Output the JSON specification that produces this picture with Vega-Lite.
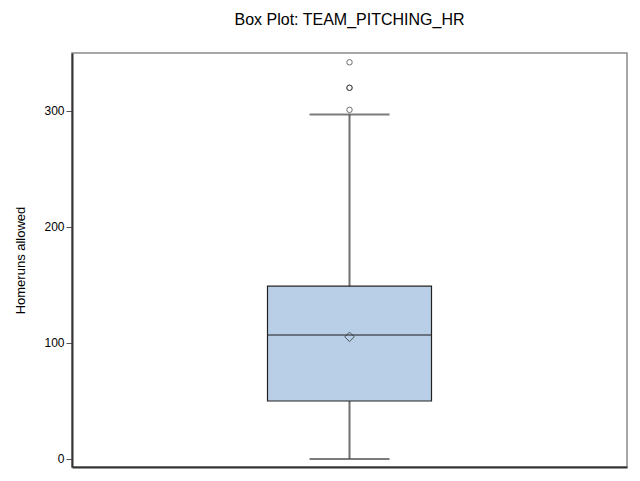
{
  "$schema": "https://vega.github.io/schema/vega-lite/v6.json",
  "width": 555,
  "height": 414,
  "autosize": {"type": "none"},
  "padding": {"left": 72, "top": 53, "right": 13, "bottom": 14},
  "background": "white",
  "title": {
    "text": "Box Plot: TEAM_PITCHING_HR",
    "anchor": "middle",
    "font": "Liberation Sans",
    "fontSize": 16,
    "fontWeight": "normal",
    "color": "black",
    "offset": 25
  },
  "config": {
    "view": {"stroke": "#8c8c8c", "strokeWidth": 1.5},
    "axis": {"labelFont": "Liberation Sans", "titleFont": "Liberation Sans"}
  },
  "datasets": {
    "stats": [
      {"variable": "TEAM_PITCHING_HR", "min": 0, "q1": 50, "median": 107, "q3": 149, "max": 297, "mean": 105.3}
    ],
    "outliers": [
      {"variable": "TEAM_PITCHING_HR", "value": 301},
      {"variable": "TEAM_PITCHING_HR", "value": 320},
      {"variable": "TEAM_PITCHING_HR", "value": 320},
      {"variable": "TEAM_PITCHING_HR", "value": 342}
    ]
  },
  "encoding": {
    "x": {
      "field": "variable",
      "type": "nominal",
      "scale": {"paddingInner": 0, "paddingOuter": 0},
      "axis": {"labels": false, "ticks": false, "title": null, "domainColor": "#333333", "domainWidth": 2}
    }
  },
  "layer": [
    {
      "data": {"name": "stats"},
      "mark": {"type": "rule", "color": "#707070", "strokeWidth": 2},
      "encoding": {
        "y": {
          "field": "min",
          "type": "quantitative",
          "scale": {"domain": [-6.9, 350], "nice": false, "zero": false},
          "axis": {
            "values": [0, 100, 200, 300],
            "grid": false,
            "title": "Homeruns allowed",
            "titleFontSize": 13,
            "titleFontWeight": "normal",
            "titleColor": "black",
            "titlePadding": 16,
            "labelFontSize": 12,
            "labelColor": "black",
            "labelPadding": 2,
            "tickSize": 6,
            "tickColor": "#555555",
            "domainColor": "#333333",
            "domainWidth": 2
          }
        },
        "y2": {"field": "max"}
      }
    },
    {
      "data": {"name": "stats"},
      "mark": {"type": "tick", "color": "#444444", "size": 80, "thickness": 2},
      "encoding": {"y": {"field": "min", "type": "quantitative"}}
    },
    {
      "data": {"name": "stats"},
      "mark": {"type": "tick", "color": "#444444", "size": 80, "thickness": 2},
      "encoding": {"y": {"field": "max", "type": "quantitative"}}
    },
    {
      "data": {"name": "stats"},
      "mark": {"type": "bar", "fill": "#b9cfe7", "stroke": "#222222", "strokeWidth": 1.2, "width": {"band": 0.2955}},
      "encoding": {
        "y": {"field": "q1", "type": "quantitative"},
        "y2": {"field": "q3"}
      }
    },
    {
      "data": {"name": "stats"},
      "mark": {"type": "tick", "color": "#222222", "size": 164, "thickness": 1.5},
      "encoding": {"y": {"field": "median", "type": "quantitative"}}
    },
    {
      "data": {"name": "stats"},
      "mark": {"type": "point", "shape": "diamond", "size": 90, "filled": false, "stroke": "#222222", "strokeWidth": 1},
      "encoding": {"y": {"field": "mean", "type": "quantitative"}}
    },
    {
      "data": {"name": "outliers"},
      "mark": {"type": "point", "shape": "circle", "size": 30, "filled": false, "stroke": "#333333", "strokeWidth": 1},
      "encoding": {"y": {"field": "value", "type": "quantitative"}}
    }
  ]
}
